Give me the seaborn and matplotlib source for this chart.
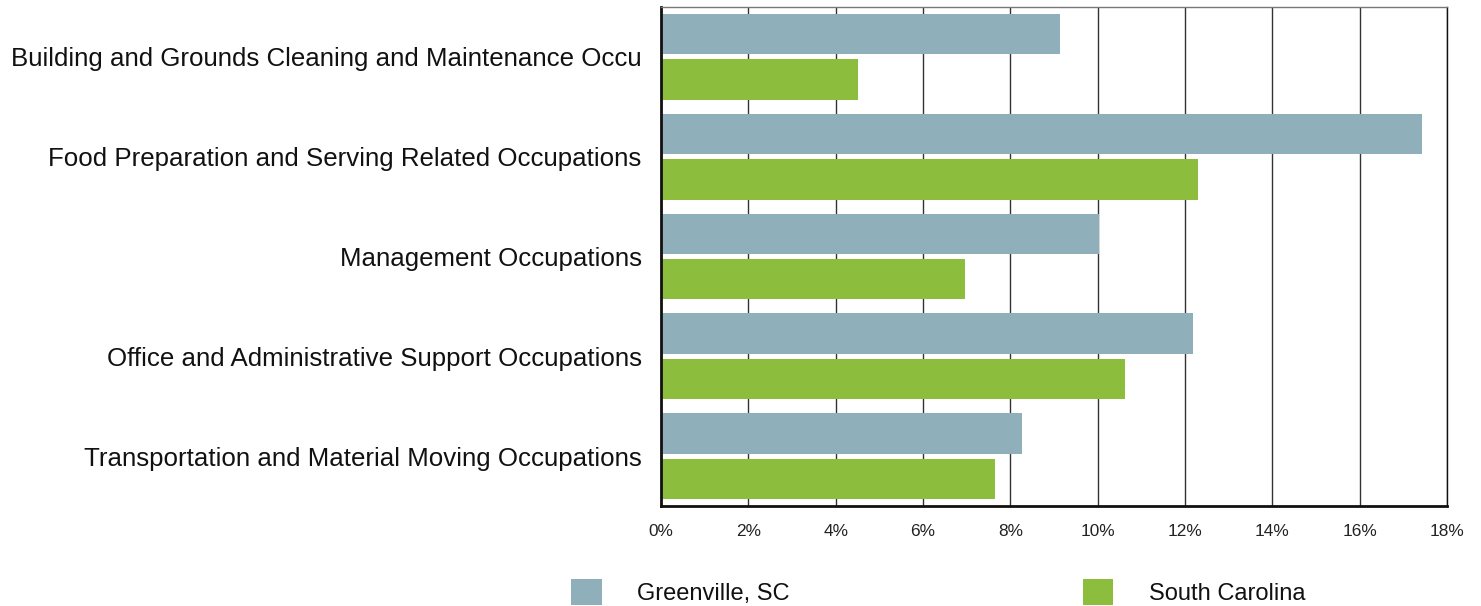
import matplotlib
matplotlib.use("Agg")
import matplotlib.pyplot as plt
import seaborn as sns
import pandas as pd
from matplotlib.patches import Patch
from matplotlib.ticker import FuncFormatter

categories = [
    "Building and Grounds Cleaning and Maintenance Occu",
    "Food Preparation and Serving Related Occupations",
    "Management Occupations",
    "Office and Administrative Support Occupations",
    "Transportation and Material Moving Occupations",
]
series = ["Greenville, SC", "South Carolina"]
greenville = [9.14, 17.42, 10.03, 12.18, 8.27]
south_carolina = [4.51, 12.30, 6.97, 10.62, 7.64]
colors = ["#8FAFBA", "#8DBD3C"]

df = pd.DataFrame({
    "occupation": categories * 2,
    "area": [series[0]] * len(categories) + [series[1]] * len(categories),
    "share": greenville + south_carolina,
})

sns.set_style("white")
plt.rcParams["font.family"] = ["Liberation Sans", "DejaVu Sans"]

fig = plt.figure(figsize=(14.81, 6.06), dpi=100)
ax = fig.add_axes([661 / 1481, 1 - 506 / 606, (1447 - 661) / 1481, (506 - 7) / 606])

sns.barplot(data=df, y="occupation", x="share", hue="area", order=categories,
            hue_order=series, palette=colors, width=0.91, gap=0.11,
            saturation=1, orient="h", ax=ax, legend=False, linewidth=0)

ax.set_xlim(0, 18)
ax.set_ylim(4.5, -0.5)
ax.set_xticks(range(0, 19, 2))
ax.xaxis.set_major_formatter(FuncFormatter(lambda v, _: f"{v:.0f}%"))
ax.set_xlabel("")
ax.set_ylabel("")
ax.tick_params(axis="x", length=0, pad=13, labelsize=12.4, labelcolor="#222222")
ax.tick_params(axis="y", length=0, pad=14, labelsize=18.6, labelcolor="#111111")

ax.grid(axis="x", color="#333333", linewidth=1)
ax.grid(axis="y", visible=False)
ax.set_axisbelow(True)

for side, spine in ax.spines.items():
    spine.set_visible(True)
    spine.set_color("#111111")
    spine.set_linewidth(1.0)
ax.spines["top"].set_color("#777777")
ax.spines["left"].set_linewidth(2.0)
ax.spines["bottom"].set_linewidth(2.0)

handles = [Patch(facecolor=c, edgecolor="none", label=s) for c, s in zip(colors, series)]
fig.legend(handles=handles, loc="center left", bbox_to_anchor=(550 / 1481, 1 - 592 / 606),
           ncol=2, frameon=False, fontsize=17, handlelength=1.3, handleheight=1.35,
           handletextpad=1.5, columnspacing=12.4, labelcolor="#111111")

fig.savefig("out.png", dpi=100)
